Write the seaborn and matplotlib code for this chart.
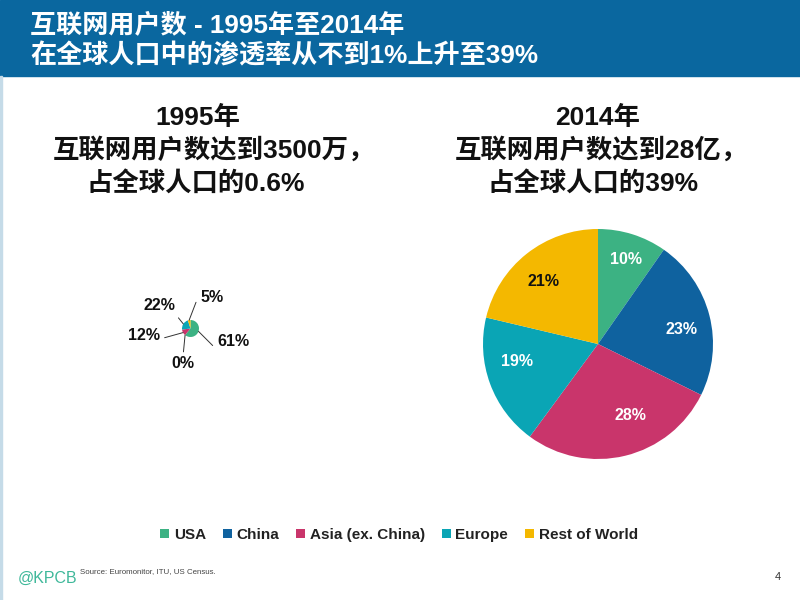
import matplotlib
matplotlib.use("Agg")
import matplotlib.pyplot as plt
import numpy as np
import seaborn as sns
from matplotlib.patches import Rectangle

REGIONS = ["USA", "China", "Asia (ex. China)", "Europe", "Rest of World"]
SHARE_1995 = [61, 0, 12, 22, 5]
# unrounded readings of the slice angles, labels round to the printed values
SHARE_2014 = [9.7, 22.6, 27.8, 18.6, 21.3]
COLORS = ["#3cb283", "#0f629f", "#c9356b", "#0aa5b5", "#f4b800"]

TITLE_LINES = ["互联网用户数 - 1995年至2014年", "在全球人口中的渗透率从不到1%上升至39%"]
LEFT_HEAD = ["1995年", "互联网用户数达到3500万，", "占全球人口的0.6%"]
RIGHT_HEAD = ["2014年", "互联网用户数达到28亿，", "占全球人口的39%"]
SOURCE = "Source: Euromonitor, ITU, US Census."

W, H = 800, 600
MIXED = ["Liberation Sans", "Noto Sans CJK SC"]

# label anchors in slide pixels (x, y from the top)
BIG_LABEL_POS = [(626, 259), (682, 330), (630, 415), (517, 361), (544, 282)]
SMALL_LABEL_POS = [(233, 342), (183, 364), (144, 336), (159, 306), (212, 297)]
SMALL_RELPOS = [(0, 0.2), (0.5, 1), (1, 0.3), (1, 0), (0, 0.2)]
SMALL_CONN = ["angle,angleA=0,angleB=-45", "arc3", "arc3", "arc3", "angle,angleA=0,angleB=69"]


def px_axes(fig, x, y, w, h):
    # pixel box measured from the top left of the slide
    return fig.add_axes([x / W, 1 - (y + h) / H, w / W, h / H])


sns.set_theme(style="white")
plt.rcParams["font.family"] = MIXED
sns.set_palette(COLORS)

fig = plt.figure(figsize=(8, 6), dpi=100, facecolor="white")


def slide_text(x, y, s, **kw):
    fig.text(x / W, 1 - y / H, s, va="center", **kw)


# header band and thin left rule
fig.add_artist(Rectangle((0, 1 - 76 / H), 1, 76 / H, transform=fig.transFigure, color="#0a679f"))
fig.add_artist(Rectangle((0, 0), 2 / W, 1 - 76 / H, transform=fig.transFigure, color="#c5dbe8"))

slide_text(30, 25, TITLE_LINES[0], color="white", fontsize=18.8, fontweight="bold", ha="left")
slide_text(30, 56, TITLE_LINES[1], color="white", fontsize=18.8, fontweight="bold", ha="left")

head_kw = dict(color="#111111", fontsize=19, fontweight="bold", ha="center")
slide_text(198, 118, LEFT_HEAD[0], **head_kw)
slide_text(214, 150, LEFT_HEAD[1], **head_kw)
slide_text(196, 183, LEFT_HEAD[2], **head_kw)
slide_text(598, 118, RIGHT_HEAD[0], **head_kw)
slide_text(601, 150, RIGHT_HEAD[1], **head_kw)
slide_text(593, 183, RIGHT_HEAD[2], **head_kw)

# 2014 pie
ax_big = px_axes(fig, 483, 229, 230, 230)
wedges, _ = ax_big.pie(SHARE_2014, colors=COLORS, startangle=90, counterclock=False, radius=1,
                       wedgeprops=dict(linewidth=0))
ax_big.set_xlim(-1, 1)
ax_big.set_ylim(-1, 1)
for value, pos, i in zip(SHARE_2014, BIG_LABEL_POS, range(5)):
    slide_text(pos[0], pos[1], f"{value:.0f}%", ha="center", fontsize=11.5, fontweight="bold",
               color="#111111" if i == 4 else "white", zorder=5)

# 1995 pie, tiny with leader lines
ax_small = px_axes(fig, 182, 320, 17, 17)
small_wedges, _ = ax_small.pie(SHARE_1995, colors=COLORS, startangle=90, counterclock=False, radius=1,
                               wedgeprops=dict(linewidth=0))
ax_small.set_xlim(-1, 1)
ax_small.set_ylim(-1, 1)
for wedge, value, pos, rel, conn in zip(small_wedges, SHARE_1995, SMALL_LABEL_POS, SMALL_RELPOS, SMALL_CONN):
    mid = np.deg2rad((wedge.theta1 + wedge.theta2) / 2)
    ax_small.annotate(f"{value}%", xy=(np.cos(mid), np.sin(mid)), xytext=(pos[0], H - pos[1]),
                      textcoords="figure pixels", ha="center", va="center",
                      fontsize=11.5, fontweight="bold", color="#111111",
                      arrowprops=dict(arrowstyle="-", color="#333333", lw=0.7, shrinkA=1, shrinkB=0,
                                      relpos=rel, connectionstyle=conn),
                      annotation_clip=False)

fig.legend(wedges, REGIONS, loc="center", bbox_to_anchor=(399 / W, 1 - 535 / H), ncol=5, frameon=False,
           prop={"family": "Liberation Sans", "weight": "bold", "size": 11},
           labelcolor="#222222", handlelength=0.6, handleheight=0.6, handletextpad=0.3, columnspacing=1.1)

# footer
slide_text(18, 578, "@KPCB", color="#3fb89a", fontsize=11.5, ha="left")
slide_text(80, 572, SOURCE, color="#444444", fontsize=5.7, ha="left")
slide_text(778, 577, "4", color="#333333", fontsize=8, ha="center")

fig.savefig("out.png", dpi=100)
